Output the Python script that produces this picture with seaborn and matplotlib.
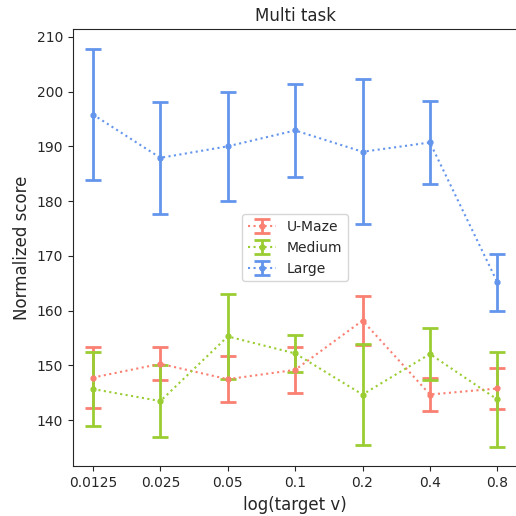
import numpy as np
import matplotlib
matplotlib.use("Agg")
import matplotlib.pyplot as plt
import seaborn as sns

x_labels = ["0.0125", "0.025", "0.05", "0.1", "0.2", "0.4", "0.8"]

umaze_mean = [147.8, 150.3, 147.5, 149.2, 158.2, 144.7, 145.8]
umaze_err = [5.6, 3.0, 4.2, 4.2, 4.5, 3.0, 3.7]

medium_mean = [145.7, 143.5, 155.3, 152.2, 144.7, 152.1, 143.8]
medium_err = [6.8, 6.6, 7.8, 3.3, 9.3, 4.7, 8.6]

large_mean = [195.8, 187.9, 190.0, 192.9, 189.0, 190.7, 165.2]
large_err = [12.0, 10.2, 9.9, 8.5, 13.2, 7.5, 5.2]

sns.set_style("ticks")
plt.rcParams['font.family'] = ['DejaVu Sans']

fig, ax = plt.subplots(figsize=(5.16, 5.16), dpi=100)
pos = np.arange(len(x_labels))

series = [("U-Maze", umaze_mean, umaze_err, "salmon"),
          ("Medium", medium_mean, medium_err, "yellowgreen"),
          ("Large", large_mean, large_err, "cornflowerblue")]
for name, m, e, c in series:
    ax.errorbar(pos, m, yerr=e, fmt='.:', color=c, label=name,
                capsize=6, capthick=2, elinewidth=2, lw=1.5, ms=7)

ax.set_xticks(pos)
ax.set_xticklabels(x_labels)
ax.tick_params(labelsize=10)
ax.set_title("Multi task", fontsize=12)
ax.set_xlabel("log(target v)", fontsize=12)
ax.set_ylabel("Normalized score", fontsize=12)
ax.legend(loc='center')
fig.subplots_adjust(left=0.141, right=1.003, top=0.944, bottom=0.096)
fig.savefig("out.png", dpi=100)
